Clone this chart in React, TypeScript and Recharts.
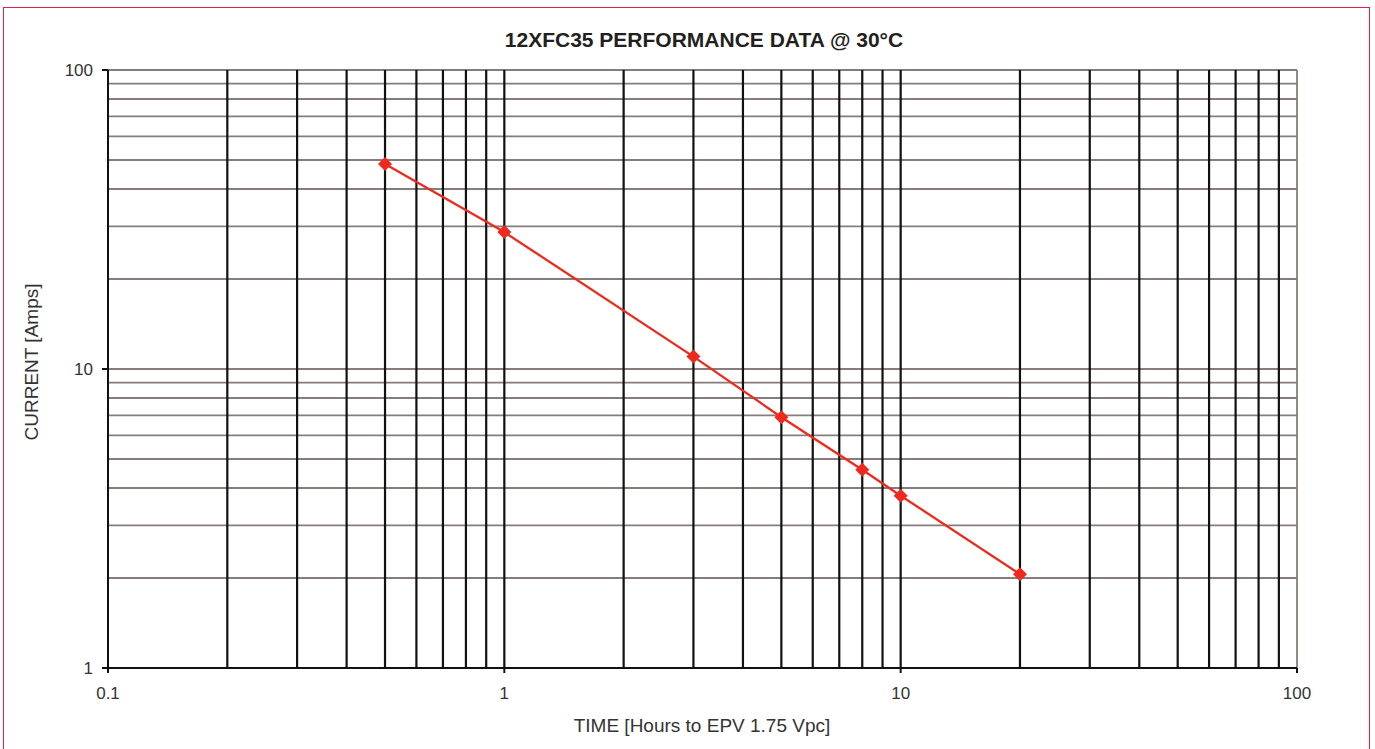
import React from 'react';
import {
  ComposedChart,
  Line,
  XAxis,
  YAxis,
  ReferenceLine,
} from 'recharts';

// discharge time (hours) vs current (amps)
const hours = [0.5, 1, 3, 5, 8, 10, 20];
const amps = [48.5, 28.7, 11.0, 6.9, 4.6, 3.77, 2.06];

const xTicks = [0.1, 1, 10, 100];
const yTicks = [1, 10, 100];

// log paper grid
const xGrid = [
  0.2, 0.3, 0.4, 0.5, 0.6, 0.7, 0.8, 0.9, 1, 2, 3, 4, 5, 6, 7, 8, 9, 10, 20, 30, 40, 50, 60,
  70, 80, 90,
];
const yGrid = [
  2, 3, 4, 5, 6, 7, 8, 9, 10, 20, 30, 40, 50, 60, 70, 80, 90, 100,
];

const data = hours.map((t, i) => ({ t, i: amps[i] }));

const FONT = '"Liberation Sans", Arial, sans-serif';
const RED = '#ee2a1f';

const Diamond = (props: any) => {
  const { cx, cy } = props;
  if (cx == null || cy == null) return null;
  const r = 7;
  return (
    <polygon
      points={`${cx},${cy - r} ${cx + r},${cy} ${cx},${cy + r} ${cx - r},${cy}`}
      fill={RED}
    />
  );
};

export default function App() {
  return (
    <div
      style={{
        position: 'absolute',
        left: 0,
        top: 0,
        width: 1375,
        height: 749,
        background: '#fff',
        fontFamily: FONT,
        overflow: 'hidden',
      }}
    >
      <div
        style={{
          position: 'absolute',
          left: 3,
          top: 7,
          width: 1367,
          height: 760,
          border: '1.5px solid #e81e4d',
          boxSizing: 'border-box',
        }}
      />
      <ComposedChart
        width={1375}
        height={749}
        data={data}
        margin={{ top: 70, right: 78, bottom: 41, left: 48 }}
        style={{ position: 'absolute', left: 0, top: 0 }}
      >
        {yGrid.map((v) => (
          <ReferenceLine key={`h${v}`} y={v} stroke="#877c7c" strokeWidth={1.8} />
        ))}
        {xGrid.map((v) => (
          <ReferenceLine key={`v${v}`} x={v} stroke="#111" strokeWidth={2.2} />
        ))}
        <ReferenceLine x={100} stroke="#877c7c" strokeWidth={1.8} />
        <XAxis
          dataKey="t"
          type="number"
          scale="log"
          domain={[0.1, 100]}
          ticks={xTicks}
          tickFormatter={(v) => String(v)}
          allowDataOverflow
          height={40}
          stroke="#111"
          strokeWidth={2}
          tickSize={5}
          tickMargin={14}
          tick={{ fill: '#333', fontSize: 17, fontFamily: FONT }}
        />
        <YAxis
          dataKey="i"
          type="number"
          scale="log"
          domain={[1, 100]}
          ticks={yTicks}
          tickFormatter={(v) => String(v)}
          allowDataOverflow
          width={60}
          stroke="#111"
          strokeWidth={2}
          tickSize={6}
          tickMargin={9}
          tick={{ fill: '#333', fontSize: 17, fontFamily: FONT }}
        />
        <Line
          dataKey="i"
          stroke={RED}
          strokeWidth={2.3}
          dot={<Diamond />}
          activeDot={false}
          isAnimationActive={false}
        />
      </ComposedChart>
      <svg
        width={1375}
        height={749}
        style={{ position: 'absolute', left: 0, top: 0, pointerEvents: 'none' }}
      >
        <text
          x={704}
          y={46.7}
          textAnchor="middle"
          fontFamily={FONT}
          fontSize={21}
          fontWeight="bold"
          fill="#231f20"
        >
          12XFC35 PERFORMANCE DATA @ 30°C
        </text>
        <text
          x={38}
          y={362}
          transform="rotate(-90 38 362)"
          textAnchor="middle"
          fontFamily={FONT}
          fontSize={19}
          fill="#333"
        >
          CURRENT [Amps]
        </text>
        <text
          x={702}
          y={731.6}
          textAnchor="middle"
          fontFamily={FONT}
          fontSize={19}
          fill="#333"
        >
          TIME [Hours to EPV 1.75 Vpc]
        </text>
      </svg>
    </div>
  );
}
